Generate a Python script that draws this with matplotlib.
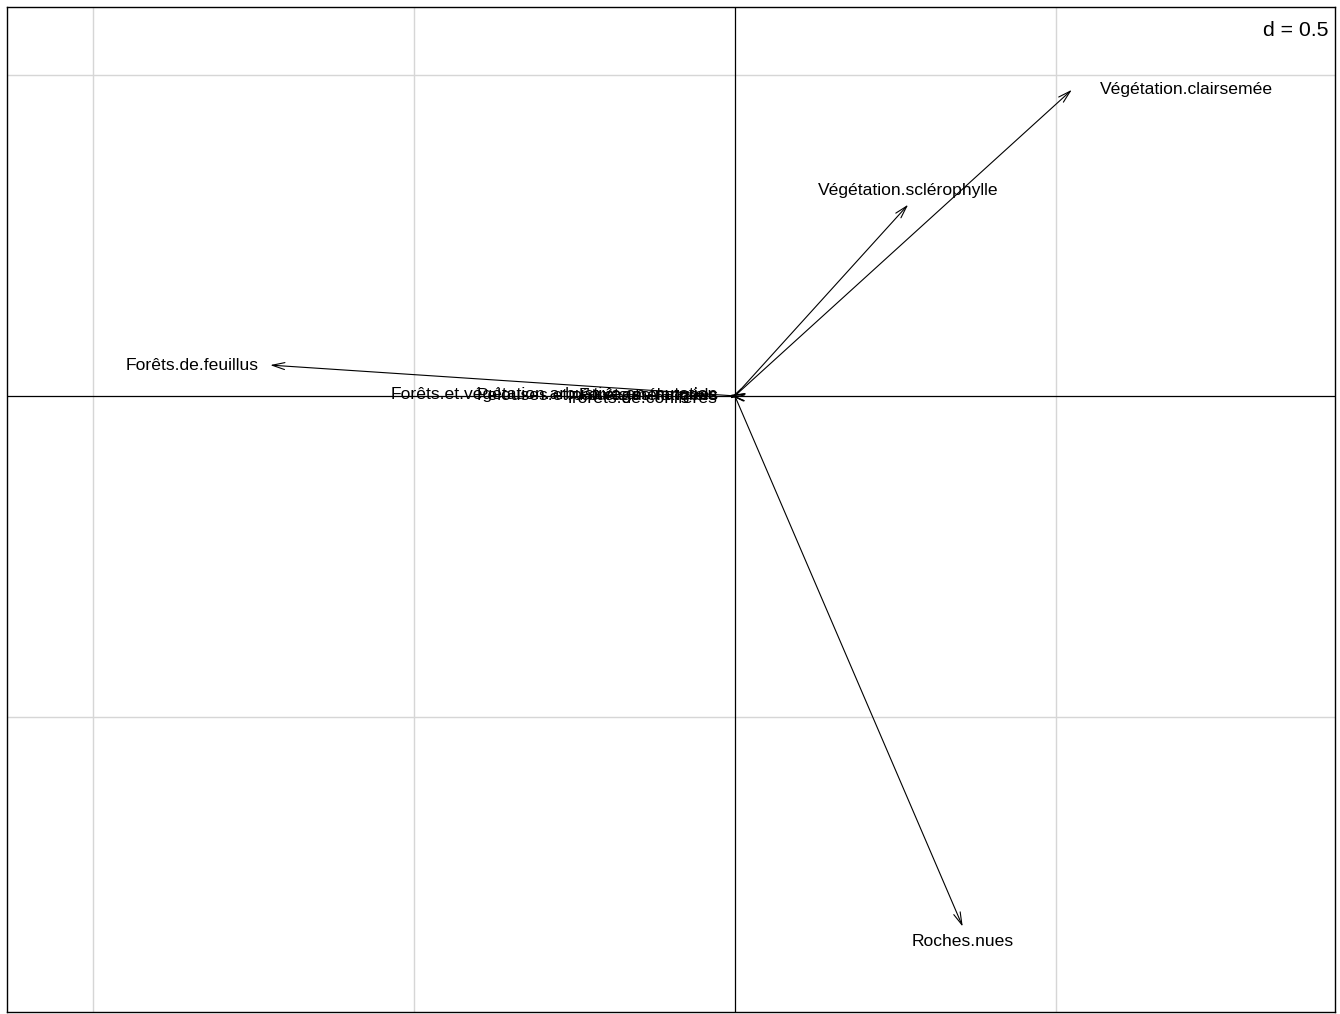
import numpy as np
import matplotlib
matplotlib.use("Agg")
import matplotlib.pyplot as plt

plt.rcParams["font.family"] = ["Liberation Sans", "DejaVu Sans"]

# column scores (axis 1, axis 2) of the land-cover variables
labels = [
    "Végétation.clairsemée",
    "Végétation.sclérophylle",
    "Roches.nues",
    "Forêts.de.feuillus",
    "Forêts.et.végétation.arbustive.en.mutation",
    "Pelouses.et.pâturages.naturels",
    "Forêts.mélangées",
    "Forêts.de.conifères",
]
xs = [0.525, 0.270, 0.355, -0.724, -0.008, -0.008, -0.007, -0.008]
ys = [0.477, 0.298, -0.827, 0.048, 0.0015, 0.001, 0.001, -0.004]

grid_step = 0.5
xlim = (-1.134, 0.935)
ylim = (-0.960, 0.606)

fig = plt.figure(figsize=(13.4, 10.14), dpi=100)
ax = fig.add_axes([7 / 1340, 2 / 1014, 1328 / 1340, 1005 / 1014])
ax.set_xlim(*xlim)
ax.set_ylim(*ylim)
ax.set_xticks([])
ax.set_yticks([])
for s in ax.spines.values():
    s.set_linewidth(1.0)
    s.set_color("black")

# background grid
gx = np.arange(-2, 2.01, grid_step)
for v in gx:
    if v != 0:
        ax.axvline(v, color="#d6d6d6", lw=1.0, zorder=0)
        ax.axhline(v, color="#d6d6d6", lw=1.0, zorder=0)
ax.axvline(0, color="black", lw=0.9, zorder=1)
ax.axhline(0, color="black", lw=0.9, zorder=1)

fs = 12.6
pad_right = 20   # points
pad_left = 8.5
vshift = 10.5

for lab, x, y in zip(labels, xs, ys):
    ax.annotate("", xy=(x, y), xytext=(0, 0),
                arrowprops=dict(arrowstyle="->,head_length=0.9,head_width=0.25",
                                color="black", lw=0.8, shrinkA=0, shrinkB=0),
                zorder=3)
    if x > y and x > -y:
        off, ha = (pad_right, 0), "left"
    elif x > y and x <= -y:
        off, ha = (0, -vshift), "center"
    elif x <= y and x <= -y:
        off, ha = (-pad_left, 0), "right"
    else:
        off, ha = (0, vshift), "center"
    ax.annotate(lab, xy=(x, y), xytext=off, textcoords="offset points",
                ha=ha, va="center", fontsize=fs, color="black", zorder=4)

ax.text(0.995, 0.986, "d = 0.5", transform=ax.transAxes, ha="right", va="top",
        fontsize=15.3, color="black",
        bbox=dict(facecolor="white", edgecolor="none", pad=1.5), zorder=5)

fig.savefig("out.png", dpi=100)
